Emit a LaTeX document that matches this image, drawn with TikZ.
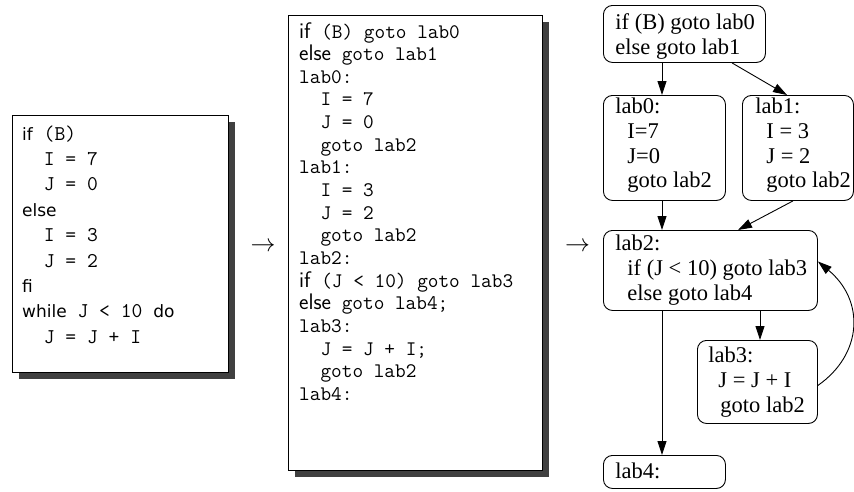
\documentclass[tikz,border=0pt]{standalone}
\usepackage{fontspec}
\setmainfont{Liberation Serif}
\newfontfamily\vsans{DejaVu Sans}
\usetikzlibrary{arrows.meta,shadows}
\newcommand\kwa[1]{{\vsans\fontsize{17}{25.4}\selectfont #1}}
\newcommand\kwb[1]{{\sffamily\fontsize{22.5}{22.65}\selectfont #1}}
\newcommand\ind{\hbox{}\ \ }
\tikzset{
  codeframe/.style={draw=black, line width=1.2pt, fill=white, inner sep=0pt, anchor=north west,
    drop shadow={shadow xshift=6pt, shadow yshift=-6pt, fill=black!75, opacity=1}},
  codetext/.style={anchor=base west, inner sep=0pt},
  cfg/.style={draw, rounded corners=9pt, line width=0.9pt, inner xsep=12pt, inner ysep=0pt,
    anchor=north west, font=\fontsize{22.5}{24.8}\selectfont},
  flowarrow/.style={line width=0.9pt, -{Triangle[length=14pt,width=9pt]}},
  bigarrow/.style={inner sep=0pt, font=\fontsize{27}{27}\selectfont}
}
\begin{document}
\begin{tikzpicture}[x=1pt,y=-1pt]
\useasboundingbox (0,0) rectangle (854,491);
% left source box
\node[codeframe, minimum width=216pt, minimum height=257pt] (box1) at (12,115) {};
\node[codetext] (code1) at (22,140) {\parbox[t]{200pt}{\fontsize{21}{25.4}\selectfont\ttfamily
\kwa{if} (B)\\
\ind I = 7\\
\ind J = 0\\
\kwa{else}\\
\ind I = 3\\
\ind J = 2\\
\kwa{fi}\\
\kwa{while} J < 10 \kwa{do}\\
\ind J = J + I}};
% middle three-address box
\node[codeframe, minimum width=254pt, minimum height=455pt] (box2) at (288,15) {};
\node[codetext] (code2) at (299,38) {\parbox[t]{240pt}{\fontsize{20.7}{22.65}\selectfont\ttfamily
\kwb{if} (B) goto lab0\\
\kwb{else} goto lab1\\
lab0:\\
\ind I = 7\\
\ind J = 0\\
\ind goto lab2\\
lab1:\\
\ind I = 3\\
\ind J = 2\\
\ind goto lab2\\
lab2:\\
\kwb{if} (J < 10) goto lab3\\
\kwb{else} goto lab4;\\
lab3:\\
\ind J = J + I;\\
\ind goto lab2\\
lab4:}};
% transformation arrows
\node[bigarrow] (ar1) at (263,247) {$\rightarrow$};
\node[bigarrow] (ar2) at (577.5,247) {$\rightarrow$};
% control flow graph
\node[cfg, text height=24pt, text depth=33pt] (n0) at (603,5)
  {\parbox[t]{138pt}{\mbox{if (B) goto lab0}\\\mbox{else goto lab1}}};
\node[cfg, text height=18pt, text depth=87pt] (l0) at (603,95)
  {\parbox[t]{98pt}{\mbox{lab0:}\\\mbox{\hspace*{12pt}I=7}\\\mbox{\hspace*{12pt}J=0}\\\mbox{\hspace*{12pt}goto lab2}}};
\node[cfg, inner xsep=13pt, text height=18pt, text depth=87pt] (l1) at (742,95)
  {\parbox[t]{85pt}{\mbox{lab1:}\\\mbox{\hspace*{11pt}I = 3}\\\mbox{\hspace*{11pt}J = 2}\\\mbox{\hspace*{11pt}goto lab2}}};
\node[cfg, text height=20pt, text depth=60pt] (l2) at (603,230)
  {\parbox[t]{190pt}{\mbox{lab2:}\\\mbox{\hspace*{12pt}if (J < 10) goto lab3}\\\mbox{\hspace*{12pt}else goto lab4}}};
\node[cfg, inner xsep=11pt, text height=22pt, text depth=61pt] (l3) at (697,340)
  {\parbox[t]{98pt}{\mbox{lab3:}\\\mbox{\hspace*{10pt}J = J + I}\\\mbox{\hspace*{12pt}goto lab2}}};
\node[cfg, text height=23pt, text depth=10pt] (l4) at (603,455)
  {\parbox[t]{98pt}{\mbox{lab4:}}};
\draw[flowarrow] ([xshift=59pt]n0.south west) -- ([xshift=59pt]l0.north west);
\draw[flowarrow] ([xshift=129pt]n0.south west) -- ([xshift=45pt]l1.north west);
\draw[flowarrow] ([xshift=59pt]l0.south west) -- ([xshift=59pt]l2.north west);
\draw[flowarrow] ([xshift=51pt]l1.south west) -- ([xshift=135pt]l2.north west);
\draw[flowarrow] ([xshift=157pt]l2.south west) -- ([xshift=63pt]l3.north west);
\draw[flowarrow] ([xshift=59pt]l2.south west) -- ([xshift=59pt]l4.north west);
\draw[flowarrow] ([yshift=-3.5pt]l3.east) .. controls +(45,-31.5) and +(47,39) .. ([yshift=9pt]l2.east);
\end{tikzpicture}
\end{document}
